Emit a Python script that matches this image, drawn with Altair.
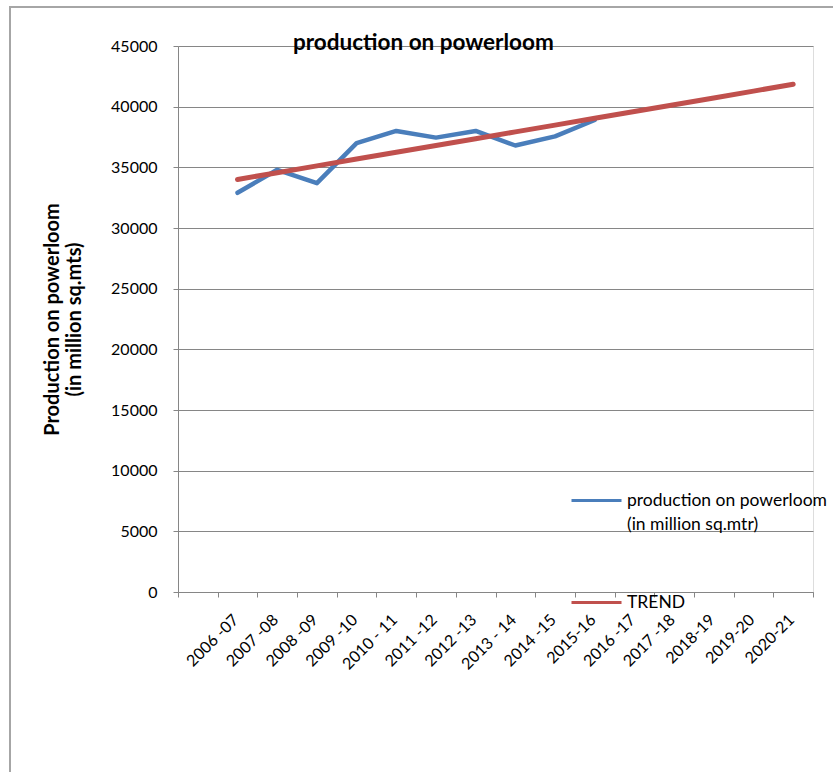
import json
import altair as alt
import pandas as pd

# ---- data ----
categories = [" ", "2006 -07", "2007 -08", "2008 -09", "2009 -10", "2010 - 11",
              "2011 -12", "2012 -13", "2013 - 14", "2014 -15", "2015-16",
              "2016 -17", "2017 -18", "2018-19", "2019-20", "2020-21"]
production_years = categories[1:11]
production_values = [32900, 34800, 33700, 37000, 38000, 37450, 38000, 36800, 37550, 38900]
trend_years = categories[1:]
trend_values = [34000, 34560, 35120, 35680, 36240, 36800, 37360, 37920, 38480,
                39040, 39600, 40160, 40720, 41280, 41850]
series_names = ["production on powerloom (in million sq.mtr)", "TREND"]
legend_lines = ["production on powerloom", "(in million sq.mtr)"]
series_colors = ["#4A7EBB", "#C0504D"]
y_ticks = list(range(0, 45001, 5000))
chart_title = "production on powerloom"
y_title = ["Production on powerloom", "(in million sq.mts)"]

df = pd.concat([
    pd.DataFrame({"year": production_years, "value": production_values, "series": series_names[0]}),
    pd.DataFrame({"year": trend_years, "value": trend_values, "series": series_names[1]}),
], ignore_index=True)

FONT = "Lato"
GRAY = "#868686"

x_enc = alt.X(
    "year:N",
    sort=categories,
    scale=alt.Scale(domain=categories, paddingInner=0, paddingOuter=0),
    axis=alt.Axis(title=None, tickBand="extent", labelAngle=-45, labelAlign="right",
                  labelBaseline="middle", labelPadding=20, labelOffset=-2,
                  labelFont=FONT, labelFontSize=16,
                  labelColor="black", tickSize=5, tickColor=GRAY, domainColor=GRAY,
                  grid=False, labelOverlap=False),
)
y_enc = alt.Y(
    "value:Q",
    scale=alt.Scale(domain=[0, 45000], nice=False),
    axis=alt.Axis(values=y_ticks, format="d", title=y_title, titleFont=FONT,
                  titleFontSize=20, titleFontWeight="bold", titleColor="black",
                  titleAngle=270, titleX=-126, titleY=273, titleAlign="center",
                  titleBaseline="middle", titleLineHeight=22,
                  labelFont=FONT, labelFontSize=16, labelColor="black", labelPadding=16,
                  tickSize=5, tickColor=GRAY, domainColor=GRAY, grid=True, gridColor=GRAY),
)
label_expr = f"datum.label == '{series_names[0]}' ? {json.dumps(legend_lines)} : datum.label"
color_enc = alt.Color(
    "series:N",
    scale=alt.Scale(domain=series_names, range=series_colors),
    legend=alt.Legend(title=None, orient="none", legendX=392, legendY=428,
                      symbolType="stroke", symbolSize=2500, symbolStrokeWidth=3,
                      labelFont=FONT, labelFontSize=17.5, labelColor="black",
                      labelOffset=4, labelLimit=400, labelBaseline="middle",
                      rowPadding=43, padding=0, labelExpr=label_expr),
)

frame = alt.Chart(alt.Data(values=[{}])).mark_rect(
    fillOpacity=0, stroke="#a6a6a6", strokeWidth=2
).encode(x=alt.value(-168), x2=alt.value(720), y=alt.value(-39), y2=alt.value(800))

base = alt.Chart(df)
blue = base.transform_filter(alt.datum.series == series_names[0]).mark_line(
    strokeWidth=4.5, strokeCap="round", strokeJoin="round"
).encode(x=x_enc, y=y_enc, color=color_enc)
red = base.transform_filter(alt.datum.series == series_names[1]).mark_line(
    strokeWidth=5, strokeCap="round", strokeJoin="round"
).encode(x=x_enc, y=y_enc, color=color_enc)

chart = alt.layer(frame, blue, red).properties(
    width=635, height=546, autosize="none",
    padding={"left": 178, "top": 46, "right": 20, "bottom": 180},
    title=alt.TitleParams(chart_title, anchor="start", dx=115, dy=66, frame="group",
                          font=FONT, fontSize=22.5, fontWeight="bold", color="black",
                          baseline="alphabetic", offset=0),
).configure_view(stroke=None).configure(
    background="white", style={"guide-label": {"lineHeight": 24}}
)

chart.save("out.html", embed_options={"renderer": "svg", "actions": False})
